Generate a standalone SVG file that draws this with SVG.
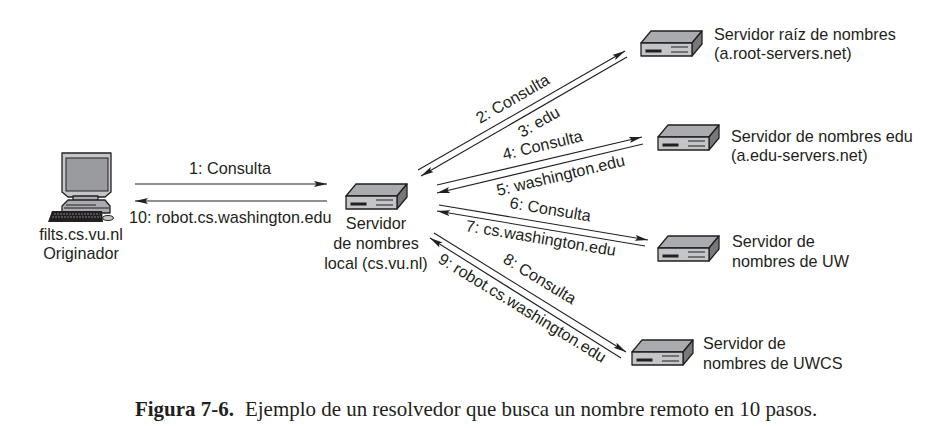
<svg xmlns="http://www.w3.org/2000/svg" width="946" height="428" viewBox="0 0 946 428">
<style>
text{font-family:"Liberation Sans",Arial,sans-serif;font-size:16.2px;fill:#231f20}
.m{text-anchor:middle}
.cap{font-family:"Liberation Serif","Times New Roman",serif;font-size:20.95px}
.ln{stroke:#231f20;stroke-width:1.1;fill:none;marker-end:url(#ah)}
.front{fill:#c4c5c7;stroke:#231f20;stroke-width:1.3;stroke-linejoin:round}
.top{fill:#a9abae;stroke:#231f20;stroke-width:1.3;stroke-linejoin:round}
.side{fill:#77787b;stroke:#231f20;stroke-width:1.3;stroke-linejoin:round}
.k{fill:#231f20}
.g{stroke:#231f20;stroke-width:1.2;fill:none}
</style>
<defs>
<marker id="ah" viewBox="0 0 13 6" refX="13" refY="3" markerWidth="13" markerHeight="6" markerUnits="userSpaceOnUse" orient="auto"><path d="M0 0L13 3L0 6L2.5 3Z" fill="#231f20"/></marker>
<g id="srv">
<path class="top" d="M0 0L10 -12H61L51 0Z"/>
<path class="side" d="M51 0L61 -12V1L51 13Z"/>
<rect class="front" x="0" y="0" width="51" height="13"/>
<rect class="k" x="4.500" y="6.500" width="16" height="3"/>
<path class="g" d="M30 4H47M30 9H47"/>
</g>
</defs>
<g id="connectors">
<path class="ln" d="M135 184H327"/>
<path class="ln" d="M327 201H135"/>
<path class="ln" d="M418 170L625 51"/>
<path class="ln" d="M627 57L421 176"/>
<path class="ln" d="M437 185L642 137"/>
<path class="ln" d="M643 144L437 193"/>
<path class="ln" d="M439 205L648 240"/>
<path class="ln" d="M645 246L437 211"/>
<path class="ln" d="M434 233L626 352"/>
<path class="ln" d="M621 358L430 238"/>
</g>
<g id="originador">
<path class="front" d="M68 197H105L111 192V153H62V192Z"/>
<rect x="66" y="158" width="42" height="33" fill="#9a9b9e" stroke="#231f20" stroke-width="1"/>
<path class="top" d="M73 196H98V202H73Z"/>
<path class="top" d="M62 206L68 200H105L110 206V213H62Z"/>
<path class="g" d="M64 208H109M66 205H96"/>
<path class="k" d="M52 211H102L103 222H48Z"/>
<path d="M54 214H100M52 217H101" stroke="#a9abae" stroke-width="0.700" stroke-dasharray="2 1" fill="none"/>
<ellipse cx="108" cy="218" rx="5.500" ry="2.500" fill="#c4c5c7" stroke="#231f20"/>
<text class="m" x="81" y="240">filts.cs.vu.nl</text>
<text class="m" x="81" y="259">Originador</text>
</g>
<g id="local"><use href="#srv" x="346" y="196"/>
<text class="m" x="376" y="229">Servidor</text>
<text class="m" x="376" y="249">de nombres</text>
<text class="m" x="376" y="269">local (cs.vu.nl)</text>
</g>
<g id="raiz"><use href="#srv" x="641" y="43"/>
<text x="714" y="40">Servidor raíz de nombres</text>
<text x="714" y="59">(a.root-servers.net)</text>
</g>
<g id="edu"><use href="#srv" x="658" y="137"/>
<text x="731" y="142">Servidor de nombres edu</text>
<text x="731" y="161">(a.edu-servers.net)</text>
</g>
<g id="uw"><use href="#srv" x="658" y="248"/>
<text x="732" y="247">Servidor de</text>
<text x="732" y="267">nombres de UW</text>
</g>
<g id="uwcs"><use href="#srv" x="632" y="352"/>
<text x="703" y="349">Servidor de</text>
<text x="703" y="369">nombres de UWCS</text>
</g>
<g id="labels">
<text x="189" y="174">1: Consulta</text>
<text x="129" y="223">10: robot.cs.washington.edu</text>
<text x="480" y="124" transform="rotate(-30 480 124)">2: Consulta</text>
<text x="522" y="138" transform="rotate(-30 522 138)">3: edu</text>
<text x="504" y="160" transform="rotate(-13.500 504 160)">4: Consulta</text>
<text x="498" y="196" transform="rotate(-13.500 498 196)">5: washington.edu</text>
<text x="509" y="208" transform="rotate(9.500 509 208)">6: Consulta</text>
<text x="465" y="231" transform="rotate(9.500 465 231)">7: cs.washington.edu</text>
<text x="502" y="262" transform="rotate(31.500 502 262)">8: Consulta</text>
<text x="437" y="262" transform="rotate(31.500 437 262)">9: robot.cs.washington.edu</text>
</g>
<text class="cap" x="135" y="416" font-weight="bold">Figura 7-6.</text>
<text class="cap" x="245" y="416">Ejemplo de un resolvedor que busca un nombre remoto en 10 pasos.</text>
</svg>
